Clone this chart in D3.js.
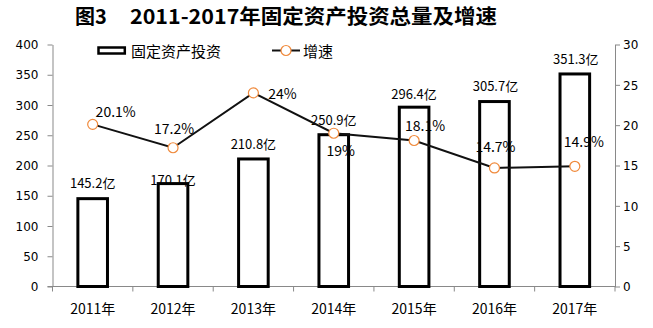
<!DOCTYPE html>
<html><head><meta charset="utf-8">
<script src="https://cdn.jsdelivr.net/npm/d3@7/dist/d3.min.js"></script>
<style>
html,body{margin:0;padding:0;background:#fff;}
svg{display:block;}
</style></head>
<body>
<svg id="chart" width="653" height="328"></svg>
<script>
const years = ["2011年","2012年","2013年","2014年","2015年","2016年","2017年"];
const investment = [145.2,170.1,210.8,250.9,296.4,305.7,351.3];
const growth = [20.1,17.2,24,19,18.1,14.7,14.9];
const investmentLabels = ["145.2亿","170.1亿","210.8亿","250.9亿","296.4亿","305.7亿","351.3亿"];
const growthLabels = ["20.1%","17.2%","24%","19%","18.1%","14.7%","14.9%"];
const leftTicks = [0,50,100,150,200,250,300,350,400];
const rightTicks = [0,5,10,15,20,25,30];

// label placement (offsets from mark, px)
const growthLabelOffset = [[23,-13],[1,-20],[29,0],[7,17],[11,-15.5],[1,-22],[9,-25]];
const barLabelOffset = [[0,-16],[0,-4],[0,-15],[0,-15.5],[0,-14],[1,-16],[1,-15]];

const svg = d3.select("#chart");
const plot = {left:52.5, right:615, top:44.5, bottom:286.5};
const axisColor = "#898989";
const numFont = "'DejaVu Sans', sans-serif";
const cjkFont = "'Noto Sans CJK SC', 'Noto Sans', sans-serif";

const x = d3.scaleBand().domain(years).range([plot.left, plot.right]).paddingInner(0).paddingOuter(0);
const yL = d3.scaleLinear().domain([0,400]).range([plot.bottom, plot.top]);
const yR = d3.scaleLinear().domain([0,30]).range([plot.bottom, plot.top]);

// Title
const title = svg.append("text").attr("y", 23.5).attr("font-family", cjkFont)
  .attr("font-weight", "bold").attr("font-size", 20).attr("fill", "#000");
title.append("tspan").attr("x", 75).text("图3");
title.append("tspan").attr("x", 130).attr("textLength", 367).attr("lengthAdjust","spacingAndGlyphs")
  .text("2011-2017年固定资产投资总量及增速");

// Left axis
const gL = svg.append("g").attr("transform", `translate(${plot.left},0)`)
  .call(d3.axisLeft(yL).tickValues(leftTicks).tickSize(5).tickSizeOuter(0).tickPadding(9));
gL.select(".domain").attr("stroke", axisColor);
gL.selectAll(".tick line").attr("stroke", axisColor);
gL.selectAll(".tick text").attr("font-family", numFont).attr("font-size", 12).attr("fill", "#000").attr("dy","0.35em");

// Right axis
const gR = svg.append("g").attr("transform", `translate(${plot.right},0)`)
  .call(d3.axisRight(yR).tickValues(rightTicks).tickSize(5).tickSizeOuter(0).tickPadding(3));
gR.select(".domain").attr("stroke", axisColor);
gR.selectAll(".tick line").attr("stroke", axisColor);
gR.selectAll(".tick text").attr("font-family", numFont).attr("font-size", 12).attr("fill", "#000").attr("dy","0.35em");

// X axis line and boundary ticks
svg.append("line").attr("x1", plot.left - 5).attr("x2", plot.right).attr("y1", plot.bottom).attr("y2", plot.bottom)
  .attr("stroke", axisColor);
const bounds = years.map(d => x(d)).concat([x(years[years.length-1]) + x.bandwidth()]);
svg.selectAll(".xtick").data(bounds).enter().append("line")
  .attr("x1", d => d).attr("x2", d => d).attr("y1", plot.bottom).attr("y2", plot.bottom + 5)
  .attr("stroke", axisColor);
svg.selectAll(".xlabel").data(years).enter().append("text")
  .attr("x", d => x(d) + x.bandwidth()/2).attr("y", 308)
  .attr("text-anchor", "middle").attr("dominant-baseline", "central")
  .attr("font-family", cjkFont).attr("font-size", 14).attr("fill", "#000")
  .text(d => d);

// Bars
const barW = 29.6;
svg.selectAll(".bar").data(investment).enter().append("rect")
  .attr("x", (d,i) => x(years[i]) + x.bandwidth()/2 - barW/2)
  .attr("y", d => yL(d))
  .attr("width", barW)
  .attr("height", d => yL(0) - yL(d))
  .attr("fill", "#fff").attr("stroke", "#000").attr("stroke-width", 3);

// Bar labels
svg.selectAll(".barlabel").data(investment).enter().append("text")
  .attr("x", (d,i) => x(years[i]) + x.bandwidth()/2 + barLabelOffset[i][0])
  .attr("y", (d,i) => yL(d) + barLabelOffset[i][1])
  .attr("text-anchor", "middle").attr("dominant-baseline", "central")
  .attr("font-family", cjkFont).attr("font-size", 13).attr("fill", "#000")
  .text((d,i) => investmentLabels[i]);

// Line
const line = d3.line().x((d,i) => x(years[i]) + x.bandwidth()/2).y(d => yR(d));
svg.append("path").datum(growth).attr("d", line)
  .attr("fill", "none").attr("stroke", "#111").attr("stroke-width", 2);
svg.selectAll(".pt").data(growth).enter().append("circle")
  .attr("cx", (d,i) => x(years[i]) + x.bandwidth()/2)
  .attr("cy", d => yR(d)).attr("r", 5)
  .attr("fill", "#fff").attr("stroke", "#F08A3C").attr("stroke-width", 1.2);

// Growth labels
svg.selectAll(".glabel").data(growth).enter().append("text")
  .attr("x", (d,i) => x(years[i]) + x.bandwidth()/2 + growthLabelOffset[i][0])
  .attr("y", (d,i) => yR(d) + growthLabelOffset[i][1])
  .attr("text-anchor", "middle").attr("dominant-baseline", "central")
  .attr("font-family", cjkFont).attr("font-size", 14).attr("fill", "#000")
  .text((d,i) => growthLabels[i]);

// Legend
const lg = svg.append("g");
lg.append("rect").attr("x", 98.5).attr("y", 47.5).attr("width", 26.3).attr("height", 6)
  .attr("fill", "#fff").attr("stroke", "#000").attr("stroke-width", 2.5);
lg.append("text").attr("x", 131).attr("y", 50.5).attr("dominant-baseline", "central")
  .attr("font-family", cjkFont).attr("font-size", 15).attr("fill", "#000").text("固定资产投资");
lg.append("line").attr("x1", 272).attr("x2", 300).attr("y1", 50.5).attr("y2", 50.5)
  .attr("stroke", "#111").attr("stroke-width", 2);
lg.append("circle").attr("cx", 286).attr("cy", 50.5).attr("r", 5)
  .attr("fill", "#fff").attr("stroke", "#F08A3C").attr("stroke-width", 1.2);
lg.append("text").attr("x", 303).attr("y", 50.5).attr("dominant-baseline", "central")
  .attr("font-family", cjkFont).attr("font-size", 15).attr("fill", "#000").text("增速");
</script>
</body></html>
